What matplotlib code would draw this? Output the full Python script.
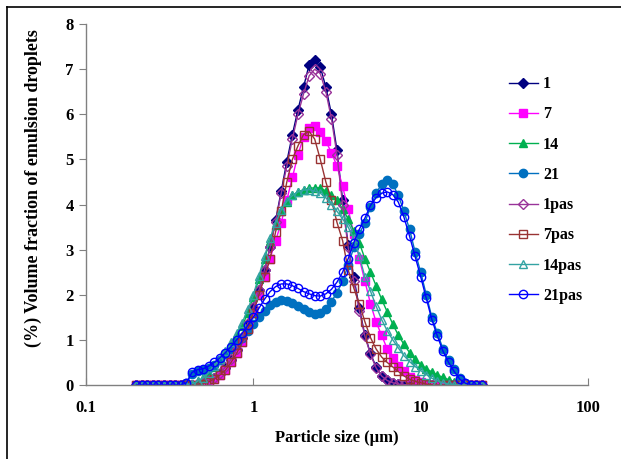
import matplotlib
matplotlib.use("Agg")
import matplotlib.pyplot as plt
from matplotlib.lines import Line2D

# Particle size grid (µm)
sizes = [0.200, 0.215, 0.233, 0.251, 0.271, 0.293, 0.316, 0.341, 0.369, 0.398,
         0.430, 0.464, 0.501, 0.541, 0.584, 0.631, 0.681, 0.736, 0.794, 0.858,
         0.926, 1.000, 1.080, 1.166, 1.259, 1.359, 1.468, 1.585, 1.711, 1.848,
         1.995, 2.154, 2.326, 2.512, 2.712, 2.929, 3.162, 3.415, 3.687, 3.981,
         4.299, 4.642, 5.012, 5.412, 5.843, 6.310, 6.813, 7.356, 7.943, 8.577,
         9.261, 10.00, 10.80, 11.66, 12.59, 13.59, 14.68, 15.85, 17.11, 18.48,
         19.95, 21.54, 23.26]

s1 = [0, 0, 0, 0, 0, 0, 0, 0, 0, 0,
      0, 0.02, 0.05, 0.10, 0.15, 0.25, 0.38, 0.55, 0.78, 1.05,
      1.35, 1.70, 2.10, 2.55, 3.05, 3.65, 4.30, 4.95, 5.55, 6.10,
      6.60, 7.10, 7.20, 7.05, 6.60, 6.00, 5.20, 4.10, 3.10, 2.40,
      1.70, 1.10, 0.70, 0.40, 0.20, 0.10, 0.05, 0.02, 0.01, 0,
      0, 0, 0, 0, 0, 0, 0, 0, 0, 0,
      0, 0, 0]

s7 = [0, 0, 0, 0, 0, 0, 0, 0, 0, 0,
      0, 0.01, 0.03, 0.07, 0.13, 0.22, 0.33, 0.50, 0.70, 0.95,
      1.25, 1.60, 2.00, 2.40, 2.80, 3.20, 3.60, 4.10, 4.60, 5.10,
      5.50, 5.70, 5.75, 5.60, 5.40, 5.15, 4.85, 4.40, 3.90, 3.35,
      2.80, 2.30, 1.80, 1.40, 1.10, 0.80, 0.60, 0.42, 0.30, 0.18,
      0.10, 0.06, 0.03, 0.01, 0, 0, 0, 0, 0, 0,
      0, 0, 0]

s14 = [0, 0, 0, 0, 0, 0, 0, 0, 0, 0.01,
       0.03, 0.08, 0.15, 0.25, 0.40, 0.55, 0.72, 0.90, 1.10, 1.30,
       1.60, 1.95, 2.35, 2.80, 3.20, 3.55, 3.85, 4.05, 4.20, 4.28,
       4.33, 4.36, 4.37, 4.37, 4.30, 4.20, 4.10, 3.90, 3.68, 3.42,
       3.15, 2.80, 2.50, 2.20, 1.90, 1.62, 1.35, 1.10, 0.90, 0.72,
       0.57, 0.45, 0.36, 0.29, 0.22, 0.17, 0.12, 0.07, 0.03, 0.01,
       0, 0, 0]

s21 = [0, 0, 0, 0, 0, 0, 0, 0, 0, 0.05,
       0.25, 0.32, 0.33, 0.38, 0.45, 0.55, 0.68, 0.80, 0.92, 1.05,
       1.20, 1.35, 1.50, 1.65, 1.77, 1.85, 1.88, 1.87, 1.82, 1.75,
       1.68, 1.62, 1.58, 1.60, 1.68, 1.85, 2.05, 2.30, 2.65, 3.05,
       3.35, 3.60, 3.95, 4.25, 4.45, 4.55, 4.45, 4.20, 3.85, 3.45,
       2.95, 2.50, 2.00, 1.50, 1.15, 0.80, 0.55, 0.35, 0.15, 0.05,
       0.01, 0, 0]

s1pas = [0, 0, 0, 0, 0, 0, 0, 0, 0, 0,
         0, 0.02, 0.05, 0.10, 0.16, 0.26, 0.40, 0.57, 0.80, 1.07,
         1.37, 1.72, 2.10, 2.55, 3.05, 3.62, 4.25, 4.85, 5.45, 6.00,
         6.45, 6.85, 7.00, 6.90, 6.50, 5.90, 5.10, 4.00, 3.05, 2.30,
         1.65, 1.08, 0.68, 0.38, 0.20, 0.10, 0.05, 0.02, 0.01, 0,
         0, 0, 0, 0, 0, 0, 0, 0, 0, 0,
         0, 0, 0]

s7pas = [0, 0, 0, 0, 0, 0, 0, 0, 0, 0,
         0, 0.01, 0.03, 0.07, 0.13, 0.22, 0.33, 0.50, 0.70, 0.95,
         1.25, 1.60, 2.00, 2.40, 2.80, 3.40, 3.85, 4.50, 5.00, 5.30,
         5.55, 5.62, 5.45, 5.00, 4.50, 4.10, 3.60, 3.20, 2.55, 2.15,
         1.80, 1.40, 1.05, 0.80, 0.62, 0.50, 0.40, 0.30, 0.20, 0.13,
         0.08, 0.05, 0.02, 0, 0, 0, 0, 0, 0, 0,
         0, 0, 0]

s14pas = [0, 0, 0, 0, 0, 0, 0, 0, 0, 0.01,
          0.03, 0.08, 0.16, 0.27, 0.42, 0.58, 0.75, 0.95, 1.15, 1.38,
          1.68, 2.00, 2.42, 2.85, 3.25, 3.60, 3.88, 4.07, 4.20, 4.28,
          4.32, 4.33, 4.30, 4.25, 4.15, 4.00, 3.85, 3.68, 3.50, 3.25,
          2.85, 2.40, 2.08, 1.75, 1.45, 1.20, 1.00, 0.82, 0.65, 0.52,
          0.41, 0.32, 0.23, 0.15, 0.09, 0.05, 0.02, 0.01, 0, 0,
          0, 0, 0]

s21pas = [0, 0, 0, 0, 0, 0, 0, 0, 0, 0.05,
          0.28, 0.34, 0.36, 0.42, 0.50, 0.60, 0.72, 0.85, 1.00, 1.15,
          1.32, 1.50, 1.70, 1.90, 2.07, 2.18, 2.24, 2.24, 2.20, 2.14,
          2.07, 2.02, 1.98, 1.97, 2.02, 2.12, 2.28, 2.50, 2.80, 3.15,
          3.45, 3.70, 3.98, 4.15, 4.25, 4.28, 4.22, 4.05, 3.72, 3.30,
          2.85, 2.40, 1.92, 1.45, 1.08, 0.75, 0.50, 0.30, 0.13, 0.04,
          0.01, 0, 0]

labels = ["1", "7", "14", "21", "1pas", "7pas", "14pas", "21pas"]
series = [s1, s7, s14, s21, s1pas, s7pas, s14pas, s21pas]
colors = ["#000080", "#FF00FF", "#00B050", "#0070C0",
          "#993399", "#993333", "#33A3A3", "#0000FF"]
markers = ["D", "s", "^", "o", "D", "s", "^", "o"]
filled = [True, True, True, True, False, False, False, False]
msizes = {"D": 5.0, "s": 5.5, "^": 6.0, "o": 6.0}

plt.rcParams['font.family'] = ['Liberation Serif', 'DejaVu Serif']
plt.rcParams['font.weight'] = 'bold'

fig = plt.figure(figsize=(6.21, 4.59), dpi=100)
ax = fig.add_axes([0.1385, 0.1612, 0.8084, 0.7865])

for lab, ys, c, m, f in zip(labels, series, colors, markers, filled):
    ax.plot(sizes, ys, color=c, lw=1.0, marker=m, markersize=msizes[m],
            markerfacecolor=c if f else 'none', markeredgecolor=c,
            markeredgewidth=1.0, label=lab)

ax.set_xscale('log')
ax.set_xlim(0.1, 100)
ax.set_ylim(0, 8)
ax.set_xticks([0.1, 1, 10, 100])
ax.set_xticklabels(["0.1", "1", "10", "100"])
ax.xaxis.set_minor_locator(matplotlib.ticker.NullLocator())
ax.set_yticks(range(0, 9))

for sp in ['top', 'right']:
    ax.spines[sp].set_visible(False)
for sp in ['left', 'bottom']:
    ax.spines[sp].set_color('#808080')
    ax.spines[sp].set_linewidth(1.0)

ax.tick_params(axis='x', direction='in', length=5, color='#808080',
               labelsize=12, pad=11)
ax.tick_params(axis='y', direction='out', length=5, color='#808080',
               labelsize=12, pad=4)

ax.set_xlabel("Particle size (\u00b5m)", fontsize=12, fontweight='bold',
              labelpad=10)
ax.set_ylabel("(%) Volume fraction of emulsion droplets", fontsize=13,
              fontweight='bold')
ax.yaxis.set_label_coords(-0.088, 0.546)

leg = ax.legend(loc='upper left', bbox_to_anchor=(0.829, 0.873), frameon=False,
                fontsize=11.5, handlelength=1.85, handletextpad=0.3,
                labelspacing=0.89, borderaxespad=0)

# outer frame (top and left edges visible)
fig.add_artist(Line2D([7/621, 7/621], [0, 1 - 7/459], color='black', lw=1.2,
                      transform=fig.transFigure))
fig.add_artist(Line2D([7/621, 1], [1 - 7/459, 1 - 7/459], color='black', lw=1.2,
                      transform=fig.transFigure))

fig.savefig("out.png", dpi=100)
